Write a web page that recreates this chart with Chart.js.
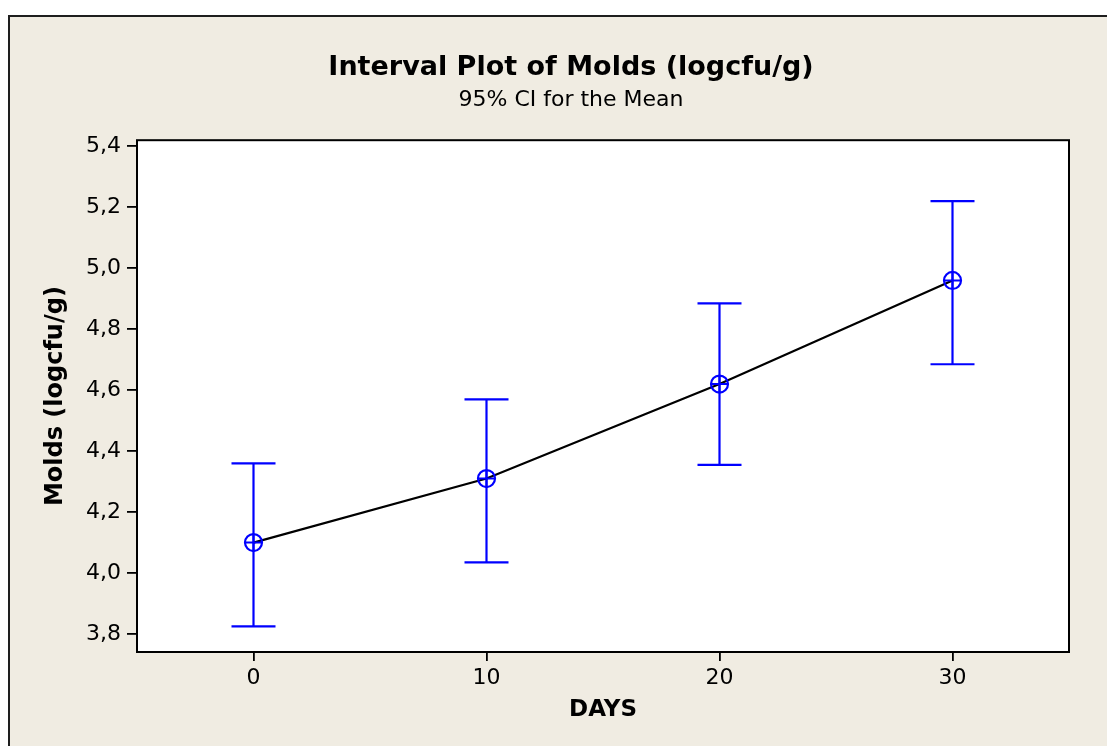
<!DOCTYPE html>
<html>
<head>
<meta charset="utf-8">
<script src="https://cdn.jsdelivr.net/npm/chart.js@4.4.1/dist/chart.umd.min.js"></script>
<style>
  html, body { margin: 0; padding: 0; background: #fff; overflow: hidden; }
  #frame { position: absolute; left: 8px; top: 15px; width: 1200px; height: 800px;
           background: #f0ece2; border-left: 2px solid #1e1e1e; border-top: 2px solid #1e1e1e; }
  #chart { position: absolute; left: 0; top: 0; }
</style>
</head>
<body>
<div id="frame"></div>
<canvas id="chart" width="1107" height="746"></canvas>
<script>
const days = [0, 10, 20, 30];
const means = [4.10, 4.31, 4.62, 4.96];
const lower = [3.825, 4.035, 4.355, 4.685];
const upper = [4.36, 4.57, 4.885, 5.22];
const xTicks = [0, 10, 20, 30];
const yTicks = [3.8, 4.0, 4.2, 4.4, 4.6, 4.8, 5.0, 5.2, 5.4];

const blue = "#0000ff";
Chart.defaults.font.family = "'DejaVu Sans', Verdana, sans-serif";
Chart.defaults.color = "#000";

// one dataset per interval: a vertical line with flat caps at both ends
const intervalSets = days.map((d, i) => ({
  data: [{ x: d, y: lower[i] }, { x: d, y: upper[i] }],
  showLine: true,
  borderColor: blue,
  borderWidth: 2.2,
  pointStyle: "line",
  pointRadius: 22,
  pointBorderColor: blue,
  pointBorderWidth: 2.2,
  order: 3,
}));
const meanPoints = days.map((d, i) => ({ x: d, y: means[i] }));

// white plot area with a black frame
const plotBox = {
  id: "plotBox",
  beforeDraw(chart) {
    const { ctx, chartArea: a } = chart;
    ctx.save();
    ctx.fillStyle = "#fff";
    ctx.fillRect(a.left, a.top, a.width, a.height);
    ctx.restore();
  },
  afterDraw(chart) {
    const { ctx, chartArea: a } = chart;
    ctx.save();
    ctx.strokeStyle = "#000";
    ctx.lineWidth = 2;
    ctx.strokeRect(a.left, a.top, a.width, a.height);
    ctx.restore();
  },
};

new Chart(document.getElementById("chart"), {
  type: "scatter",
  data: {
    datasets: [
      {
        data: meanPoints,
        pointStyle: "circle",
        pointRadius: 8.5,
        pointBorderColor: blue,
        pointBackgroundColor: "rgba(0,0,0,0)",
        pointBorderWidth: 2.2,
        order: 1,
      },
      {
        data: meanPoints,
        pointStyle: "cross",
        pointRadius: 8.5,
        pointBorderColor: blue,
        pointBorderWidth: 2,
        order: 1,
      },
      {
        data: meanPoints,
        showLine: true,
        borderColor: "#000",
        borderWidth: 2.2,
        pointRadius: 0,
        order: 2,
      },
      ...intervalSets,
    ],
  },
  options: {
    responsive: false,
    animation: false,
    devicePixelRatio: 1,
    layout: { padding: { left: 35, right: 0, top: 0, bottom: 0 } },
    scales: {
      x: {
        type: "linear",
        min: -5,
        max: 35,
        afterBuildTicks: (s) => { s.ticks = xTicks.map((v) => ({ value: v })); },
        afterFit: (s) => { s.height = 94; },
        ticks: { font: { size: 22 }, padding: 4, callback: (v) => String(v) },
        grid: { drawOnChartArea: false, tickLength: 9, color: "#000", lineWidth: 1.8 },
        border: { display: false },
        title: {
          display: true,
          text: "DAYS",
          font: { size: 23, weight: "bold" },
          padding: { top: 0, bottom: 22 },
        },
      },
      y: {
        type: "linear",
        min: 3.741,
        max: 5.42,
        afterBuildTicks: (s) => { s.ticks = yTicks.map((v) => ({ value: v })); },
        afterFit: (s) => { s.width = 102; },
        ticks: { font: { size: 22 }, padding: 6, callback: (v) => v.toFixed(1).replace(".", ",") },
        grid: { drawOnChartArea: false, tickLength: 10, color: "#000", lineWidth: 1.8 },
        border: { display: false },
        title: {
          display: true,
          text: "Molds (logcfu/g)",
          font: { size: 24, weight: "bold" },
          padding: { top: 6.6, bottom: 0 },
        },
      },
      y2: {
        type: "linear",
        position: "right",
        afterFit: (s) => { s.width = 38; },
        ticks: { display: false },
        grid: { display: false },
        border: { display: false },
      },
    },
    plugins: {
      legend: { display: false },
      tooltip: { enabled: false },
      title: {
        display: true,
        text: "Interval Plot of Molds (logcfu/g)",
        font: { size: 27, weight: "bold" },
        padding: { top: 51.8, bottom: 0 },
      },
      subtitle: {
        display: true,
        text: "95% CI for the Mean",
        font: { size: 22, weight: "normal" },
        padding: { top: 2.8, bottom: 26.8 },
      },
    },
  },
  plugins: [plotBox],
});
</script>
</body>
</html>
